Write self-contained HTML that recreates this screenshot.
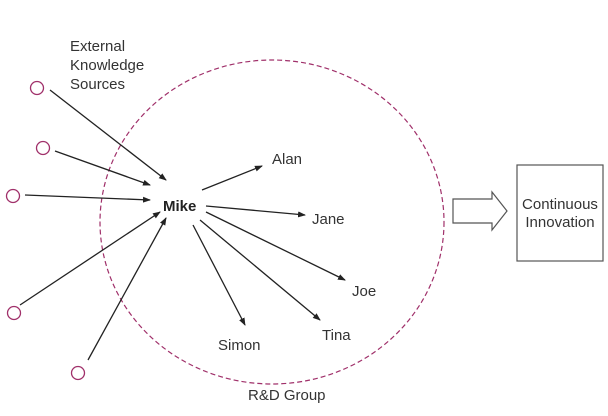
<!DOCTYPE html><html><head><style>body{margin:0;background:#fff}</style></head><body>
<svg width="608" height="411" xmlns="http://www.w3.org/2000/svg" font-family="Liberation Sans, sans-serif" font-size="15" fill="#333">
<defs><marker id="a" markerWidth="8" markerHeight="8" refX="7" refY="4" orient="auto" markerUnits="userSpaceOnUse"><path d="M0,1 L8,4 L0,7 z" fill="#222"/></marker></defs>
<ellipse cx="272" cy="222" rx="172" ry="162" fill="none" stroke="#a0306a" stroke-width="1.2" stroke-dasharray="5,3"/>
<g fill="none" stroke="#a0306a" stroke-width="1.3">
<circle cx="37" cy="88" r="6.5"/><circle cx="43" cy="148" r="6.5"/><circle cx="13" cy="196" r="6.5"/><circle cx="14" cy="313" r="6.5"/><circle cx="78" cy="373" r="6.5"/></g>
<g stroke="#222" stroke-width="1.3" marker-end="url(#a)">
<line x1="50" y1="90" x2="166" y2="180"/><line x1="55" y1="151" x2="150" y2="185"/><line x1="25" y1="195" x2="150" y2="200"/><line x1="20" y1="305" x2="160" y2="212"/><line x1="88" y1="360" x2="166" y2="218"/>
<line x1="202" y1="190" x2="262" y2="166"/><line x1="206" y1="206" x2="305" y2="215"/><line x1="206" y1="212" x2="345" y2="280"/><line x1="200" y1="220" x2="320" y2="320"/><line x1="193" y1="225" x2="245" y2="325"/></g>
<text x="70" y="51">External</text><text x="70" y="70">Knowledge</text><text x="70" y="89">Sources</text>
<text x="163" y="211" font-weight="bold" fill="#222">Mike</text>
<text x="272" y="164">Alan</text><text x="312" y="224">Jane</text><text x="352" y="296">Joe</text><text x="322" y="340">Tina</text><text x="218" y="350">Simon</text><text x="248" y="400">R&amp;D Group</text>
<path d="M453,199 H492 V192 L507,211 L492,230 V223 H453 Z" fill="#fff" stroke="#555" stroke-width="1.2"/>
<rect x="517" y="165" width="86" height="96" fill="#fff" stroke="#555" stroke-width="1.2"/>
<text x="560" y="209" text-anchor="middle">Continuous</text><text x="560" y="227" text-anchor="middle">Innovation</text>
</svg></body></html>
